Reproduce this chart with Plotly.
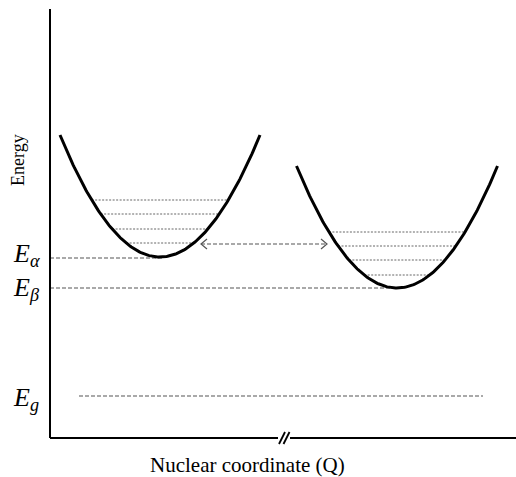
import numpy as np
import plotly.graph_objects as go

# ---- data (arbitrary units: Q = nuclear coordinate, E = energy) ----
well_names = ["alpha", "beta"]
well_center = [110, 347]          # Q of minimum
well_min = [181, 150]             # E of minimum
well_halfwidth = [100, 100.5]     # half-width of the drawn curve
well_top = [303, 272]             # E at the drawn ends

levels_alpha = [238, 224, 209, 195]   # vibrational levels, left well
levels_beta = [206, 192, 178, 163]    # vibrational levels, right well

E_alpha = 180
E_beta = 150
E_g = 42
E_alpha_span = [0, 113]
E_beta_span = [0, 350]
E_g_span = [29, 433]

transfer_Q = [151, 277]   # double-headed arrow between wells
transfer_E = 194

Q_axis_end = 466
E_axis_top = 429
Q_break = 234

energy_labels = ["<i>E</i><sub><i>α</i></sub>", "<i>E</i><sub><i>β</i></sub>", "<i>E</i><sub><i>g</i></sub>"]
energy_label_E = [183, 149, 39]

fig = go.Figure()

def well_curve(i):
    q = np.linspace(well_center[i] - well_halfwidth[i], well_center[i] + well_halfwidth[i], 200)
    e = well_min[i] + (well_top[i] - well_min[i]) * ((q - well_center[i]) / well_halfwidth[i]) ** 2
    return q, e

def level_ends(i, e):
    d = well_halfwidth[i] * np.sqrt((e - well_min[i]) / (well_top[i] - well_min[i]))
    return well_center[i] - d, well_center[i] + d

# vibrational levels
for i, levs in enumerate([levels_alpha, levels_beta]):
    xs, ys = [], []
    for e in levs:
        a, b = level_ends(i, e)
        xs += [a, b, None]
        ys += [e, e, None]
    fig.add_trace(go.Scatter(x=xs, y=ys, mode="lines",
                             line=dict(color="#666666", width=1, dash="2px,1.5px")))

# reference energy lines
for span, e in [(E_alpha_span, E_alpha), (E_beta_span, E_beta), (E_g_span, E_g)]:
    fig.add_trace(go.Scatter(x=span, y=[e, e], mode="lines",
                             line=dict(color="#555555", width=1.2, dash="4px,2px")))

# wells
for i in range(len(well_names)):
    q, e = well_curve(i)
    fig.add_trace(go.Scatter(x=q, y=e, mode="lines", line=dict(color="black", width=3)))

# transfer arrow
fig.add_trace(go.Scatter(x=transfer_Q, y=[transfer_E, transfer_E], mode="lines",
                         line=dict(color="#555555", width=1.2, dash="4px,2px")))
hx, hy = 6, 5
fig.add_trace(go.Scatter(
    x=[transfer_Q[0] + hx, transfer_Q[0], transfer_Q[0] + hx, None,
       transfer_Q[1] - hx, transfer_Q[1], transfer_Q[1] - hx],
    y=[transfer_E + hy, transfer_E, transfer_E - hy, None,
       transfer_E + hy, transfer_E, transfer_E - hy],
    mode="lines", line=dict(color="#555555", width=1.2)))

# axes lines (with break)
line = dict(color="black", width=2)
fig.add_shape(type="line", x0=0, x1=0, y0=0, y1=E_axis_top, line=line)
fig.add_shape(type="line", x0=0, x1=Q_break - 6, y0=0, y1=0, line=line)
fig.add_shape(type="line", x0=Q_break + 6, x1=Q_axis_end, y0=0, y1=0, line=line)
for dx in [-2, 2.5]:
    fig.add_shape(type="line", x0=Q_break + dx - 3, x1=Q_break + dx + 3, y0=-6, y1=6,
                  line=dict(color="black", width=1.8))

serif = "Liberation Serif, Times New Roman, serif"
for lab, e in zip(energy_labels, energy_label_E):
    fig.add_annotation(x=-24, y=e, text=lab, showarrow=False, xanchor="center", yanchor="middle",
                       font=dict(family=serif, size=26, color="black"))
fig.add_annotation(x=-32, y=278, text="Energy", textangle=-90, showarrow=False,
                   font=dict(family=serif, size=18, color="black"))
fig.add_annotation(x=197, y=-27, text="Nuclear coordinate (Q)", showarrow=False,
                   font=dict(family=serif, size=21, color="black"))

fig.update_layout(
    width=516, height=477, margin=dict(l=0, r=0, t=0, b=0),
    paper_bgcolor="white", plot_bgcolor="white", showlegend=False,
    xaxis=dict(range=[-50, 466], visible=False, fixedrange=True),
    yaxis=dict(range=[-39, 438], visible=False, fixedrange=True),
)

fig.write_html("out.html")
